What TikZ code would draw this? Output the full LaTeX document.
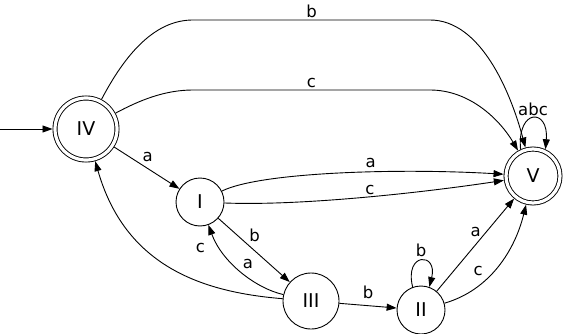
\documentclass[tikz,border=0pt]{standalone}
\usepackage{fontspec}
\setmainfont{DejaVu Sans}
\usetikzlibrary{positioning,arrows.meta}

\begin{document}
\begin{tikzpicture}[
  x=1pt, y=-1pt,
  font=\fontsize{16.5}{19}\selectfont,
  on grid,
  state/.style={draw, circle, line width=0.9pt, inner sep=0pt, font=\fontsize{19}{22}\selectfont},
  accept/.style={state, double, double distance=3.2pt, outer sep=2.5pt},
  edge/.style={-{Triangle[length=10pt, width=7pt]}, line width=0.9pt},
  lbl/.style={inner sep=2pt}
]
\useasboundingbox (0,0) rectangle (564,334);

\node[accept, minimum size=62pt] (IV) at (86,129) {IV};
\node[state, minimum size=48pt, below right=73pt and 114pt of IV] (I) {I};
\node[state, minimum size=56pt, below right=99pt and 111pt of I] (III) {III};
\node[state, minimum size=48pt, below right=9pt and 110pt of III] (II) {II};
\node[accept, minimum size=54pt, above right=134pt and 112pt of II] (V) {V};
\coordinate (start) at (0,129);

\draw[edge] (start) -- (IV);
\draw[edge] (IV) .. controls (130,45) and (160,20) .. (193,20)
  -- node[lbl, above] {b} (430,20) .. controls (480,20) and (510,90) .. (V);
\draw[edge] (IV) .. controls (140,100) and (165,90) .. (193,90)
  -- node[lbl, above] {c} (430,90) .. controls (470,90) and (500,120) .. (V);
\draw[edge] (V.115) .. controls (517,108) and (549,108) .. node[lbl, above] {abc} (V.65);
\draw[edge] (IV) -- node[lbl, above right, pos=0.4] {a} (I);
\draw[edge] (I) .. controls (260,172) and (400,168) .. node[lbl, above=2pt, pos=0.6] {a} (V);
\draw[edge] (I) .. controls (300,206) and (420,193) .. node[lbl, above, pos=0.53] {c} (V);
\draw[edge] (I) -- node[lbl, above right, pos=0.4] {b} (III);
\draw[edge] (III) .. controls (255,288) and (222,262) .. node[lbl, above right, pos=0.5] {a} (I);
\draw[edge] (III) .. controls (200,292) and (125,265) .. node[lbl, pos=0.3, above=30pt, xshift=-11pt] {c} (IV);
\draw[edge] (III) -- node[lbl, above=4pt] {b} (II);
\draw[edge] (II.110) .. controls (404,252) and (438,252) .. node[lbl, above=2pt] {b} (II.70);
\draw[edge] (II) -- node[lbl, left=3pt, pos=0.64] {a} (V);
\draw[edge] (II) .. controls (490,290) and (515,250) .. node[lbl, left=9pt, pos=0.45] {c} (V);
\end{tikzpicture}
\end{document}
